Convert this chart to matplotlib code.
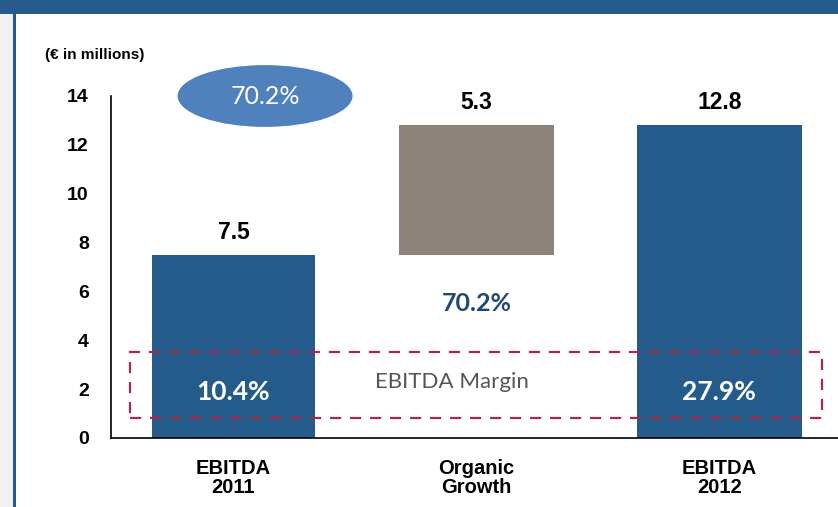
import matplotlib
matplotlib.use('Agg')
import matplotlib.pyplot as plt
from matplotlib.patches import Ellipse, Rectangle

# Chart data
categories = ['EBITDA\n2011', 'Organic\nGrowth', 'EBITDA\n2012']
ebitda_2011 = 7.5
organic_growth = 5.3
ebitda_2012 = 12.8
margins = ['10.4%', '27.9%']
growth_pct = '70.2%'
y_ticks = [0, 2, 4, 6, 8, 10, 12, 14]

BLUE = '#255b8a'
GRAY = '#8c837b'
NARROW = ['Liberation Sans Narrow', 'Liberation Sans', 'DejaVu Sans']
SOFT = ['Lato', 'DejaVu Sans']

fig = plt.figure(figsize=(8.38, 5.07), dpi=100)
fig.patch.set_facecolor('#f1f1f1')

# Slide frame: white panel, blue top band and left rule
fig.add_artist(Rectangle((15 / 838, 0), 1, 1 - 14 / 507, transform=fig.transFigure,
                         facecolor='white', edgecolor='none', zorder=0))
fig.add_artist(Rectangle((0, 1 - 14 / 507), 1, 14 / 507, transform=fig.transFigure,
                         facecolor='#255a8a', edgecolor='none', zorder=1))
fig.add_artist(Rectangle((13 / 838, 0), 2.5 / 838, 1, transform=fig.transFigure,
                         facecolor='#255a8a', edgecolor='none', zorder=1))

ax = fig.add_axes([111 / 838, 69 / 507, 1 - 111 / 838, 342 / 507])
ax.set_facecolor('none')

x = [0, 1, 2]
ax.bar(x[0], ebitda_2011, width=0.67, color=BLUE, zorder=2)
ax.bar(x[1], organic_growth, bottom=ebitda_2011, width=0.64, color=GRAY, zorder=2)
ax.bar(x[2], ebitda_2012, width=0.68, color=BLUE, zorder=2)

# Value labels above bars
for xi, top, val in [(x[0], ebitda_2011, ebitda_2011),
                     (x[1], ebitda_2011 + organic_growth, organic_growth),
                     (x[2], ebitda_2012, ebitda_2012)]:
    ax.text(xi, top + 0.45, f'{val:.1f}', ha='center', va='bottom',
            fontsize=16.5, fontweight='bold', family=NARROW, color='black')

ax.set_xlim(-0.504, 2.488)
ax.set_ylim(0, 14)
ax.set_yticks(y_ticks)
ax.set_yticklabels([str(t) for t in y_ticks], fontsize=14, fontweight='bold', family=NARROW)
ax.set_xticks(x)
ax.set_xticklabels(categories, fontsize=14.5, fontweight='bold', family=NARROW, linespacing=1.0)
ax.tick_params(axis='both', length=0)
ax.tick_params(axis='y', pad=16)
ax.tick_params(axis='x', pad=15)
for s in ['top', 'right']:
    ax.spines[s].set_visible(False)
ax.spines['left'].set_linewidth(1.2)
ax.spines['bottom'].set_linewidth(1.2)

# Growth ellipse callout
ax.add_patch(Ellipse((0.13, 14.0), 0.72, 2.53, facecolor='#4f81bd', edgecolor='none',
                     clip_on=False, zorder=3))
ax.text(0.13, 14.0, growth_pct, ha='center', va='center', fontsize=18,
        color='white', family=SOFT, zorder=4, clip_on=False)

ax.text(1, 5.5, growth_pct, ha='center', va='center', fontsize=18, fontweight='bold',
        color='#1f4a74', family=SOFT, zorder=4)

# EBITDA margin box
ax.add_patch(Rectangle((-0.426, 0.82), 2.848, 2.69, facecolor='none', edgecolor='#a8284a',
                       linestyle=(0, (5, 4)), linewidth=1.6, zorder=3, clip_on=False))
ax.text(0.90, 2.3, 'EBITDA Margin', ha='center', va='center', fontsize=16,
        color='#555555', family=SOFT, zorder=4)
ax.text(x[0], 1.9, margins[0], ha='center', va='center', fontsize=19, fontweight='bold',
        color='white', family=SOFT, zorder=4)
ax.text(x[2], 1.9, margins[1], ha='center', va='center', fontsize=19, fontweight='bold',
        color='white', family=SOFT, zorder=4)

fig.text(95 / 838, 1 - 55 / 507, '(€ in millions)', ha='center', va='center',
         fontsize=11, fontweight='bold', family=NARROW)

fig.savefig('out.png', dpi=100)
